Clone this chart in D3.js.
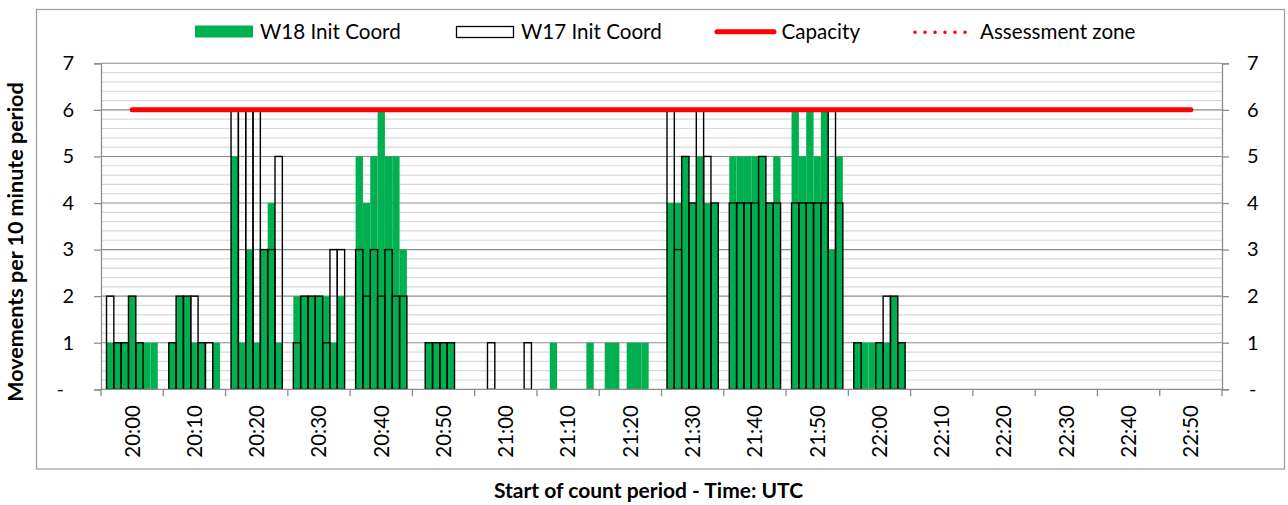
<!DOCTYPE html>
<html>
<head>
<meta charset="utf-8">
<script src="https://cdn.jsdelivr.net/npm/d3@7"></script>
<style>
  html, body { margin: 0; padding: 0; background: #fff; }
  svg { display: block; font-family: Lato, "Noto Sans", sans-serif; }
</style>
</head>
<body>
<svg id="chart" width="1288" height="505"></svg>
<script>
// Ten-minute count periods shown on the category axis
const periods = ["20:00", "20:10", "20:20", "20:30", "20:40", "20:50",
                 "21:00", "21:10", "21:20", "21:30", "21:40", "21:50",
                 "22:00", "22:10", "22:20", "22:30", "22:40", "22:50"];

// Seven counts per period (one per sub-slot)
const slots = [0, 1, 2, 3, 4, 5, 6];

// W18 Init Coord counts, one row per period
const w18 = [
  [1, 1, 1, 2, 1, 1, 1],
  [1, 2, 2, 1, 1, 0, 1],
  [5, 1, 3, 1, 3, 4, 1],
  [2, 2, 2, 2, 2, 1, 2],
  [5, 4, 5, 6, 5, 5, 3],
  [0, 1, 1, 1, 1, 0, 0],
  [0, 0, 0, 0, 0, 0, 0],
  [0, 1, 0, 0, 0, 0, 1],
  [1, 1, 0, 1, 1, 1, 0],
  [4, 4, 5, 4, 5, 4, 4],
  [5, 5, 5, 5, 5, 4, 5],
  [6, 5, 6, 5, 6, 3, 5],
  [1, 1, 1, 1, 1, 2, 1],
  [0, 0, 0, 0, 0, 0, 0],
  [0, 0, 0, 0, 0, 0, 0],
  [0, 0, 0, 0, 0, 0, 0],
  [0, 0, 0, 0, 0, 0, 0],
  [0, 0, 0, 0, 0, 0, 0]
];

// W17 Init Coord counts, one row per period
const w17 = [
  [2, 1, 1, 2, 1, 0, 0],
  [1, 2, 2, 2, 1, 1, 0],
  [6, 6, 6, 6, 3, 3, 5],
  [1, 2, 2, 2, 1, 3, 3],
  [3, 2, 3, 2, 3, 2, 2],
  [0, 1, 1, 1, 1, 0, 0],
  [0, 1, 0, 0, 0, 0, 1],
  [0, 0, 0, 0, 0, 0, 0],
  [0, 0, 0, 0, 0, 0, 0],
  [6, 3, 5, 4, 6, 5, 4],
  [4, 4, 4, 4, 5, 4, 4],
  [4, 4, 4, 4, 4, 6, 4],
  [1, 0, 0, 1, 2, 2, 1],
  [0, 0, 0, 0, 0, 0, 0],
  [0, 0, 0, 0, 0, 0, 0],
  [0, 0, 0, 0, 0, 0, 0],
  [0, 0, 0, 0, 0, 0, 0],
  [0, 0, 0, 0, 0, 0, 0]
];

// Declared capacity and assessment zone per period
const capacity       = [6, 6, 6, 6, 6, 6, 6, 6, 6, 6, 6, 6, 6, 6, 6, 6, 6, 6];
const assessmentZone = [6, 6, 6, 6, 6, 6, 6, 6, 6, 6, 6, 6, 6, 6, 6, 6, 6, 6];

// Value-axis ticks
const yTicks = [0, 1, 2, 3, 4, 5, 6, 7];

const svg = d3.select("#chart");
const plot = { left: 101, right: 1222, top: 63.3, bottom: 389.3 };

const x = d3.scaleBand().domain(periods).range([plot.left, plot.right]).padding(0);
const xSlot = d3.scaleBand().domain(slots).range([0, x.bandwidth()])
  .paddingInner(0).paddingOuter(0.75);
const y = d3.scaleLinear().domain([0, 7]).range([plot.bottom, plot.top]);

const GREEN = "#00B050", RED = "#FF0000";

// Outer chart frame
svg.append("rect")
  .attr("x", 36.5).attr("y", 9.5).attr("width", 1248).attr("height", 459.5)
  .attr("fill", "none").attr("stroke", "#a0a0a0").attr("stroke-width", 1.3);

// Minor gridlines every 0.2
const minor = d3.range(1, 35).map(i => i / 5).filter(v => Math.abs(v - Math.round(v)) > 1e-6);
svg.append("g").selectAll("line").data(minor).join("line")
  .attr("x1", plot.left).attr("x2", plot.right)
  .attr("y1", d => y(d)).attr("y2", d => y(d))
  .attr("stroke", "#d9d9d9").attr("stroke-width", 1.2);

// Major gridlines
svg.append("g").selectAll("line").data(yTicks.filter(d => d > 0)).join("line")
  .attr("x1", plot.left).attr("x2", plot.right)
  .attr("y1", d => y(d)).attr("y2", d => y(d))
  .attr("stroke", "#8c8c8c").attr("stroke-width", 1.1);

// Flatten the period x slot tables into bar records
const flat = (table) => periods.flatMap((p, i) => slots.map(s => ({ p, s, v: table[i][s] })));

// W18 filled bars
svg.append("g").selectAll("rect").data(flat(w18).filter(d => d.v > 0)).join("rect")
  .attr("x", d => x(d.p) + xSlot(d.s))
  .attr("width", xSlot.bandwidth())
  .attr("y", d => y(d.v))
  .attr("height", d => y(0) - y(d.v))
  .attr("fill", GREEN);

// W17 outlined bars drawn over the filled ones
svg.append("g").selectAll("rect").data(flat(w17).filter(d => d.v > 0)).join("rect")
  .attr("x", d => x(d.p) + xSlot(d.s))
  .attr("width", xSlot.bandwidth())
  .attr("y", d => y(d.v))
  .attr("height", d => y(0) - y(d.v))
  .attr("fill", "none").attr("stroke", "#000").attr("stroke-width", 1.4);

// Axes lines
const axisColor = "#8c8c8c";
const yAxisL = d3.axisLeft(y).tickValues(yTicks).tickSize(7).tickFormat(d => d === 0 ? "-" : d);
const gL = svg.append("g").attr("transform", `translate(${plot.left},0)`).call(yAxisL);
const yAxisR = d3.axisRight(y).tickValues(yTicks).tickSize(7).tickFormat(d => d === 0 ? "-" : d);
const gR = svg.append("g").attr("transform", `translate(${plot.right},0)`).call(yAxisR);
[gL, gR].forEach(g => {
  g.select(".domain").attr("stroke", axisColor).attr("stroke-width", 1.3);
  g.selectAll(".tick line").attr("stroke", axisColor).attr("stroke-width", 1.3);
  g.selectAll(".tick text").attr("fill", "#000").attr("font-size", 20).attr("font-family", "Lato");
});
gL.selectAll(".tick text").attr("x", -27).attr("text-anchor", "end")
  .filter(d => d === 0).attr("x", -37);
gR.selectAll(".tick text").attr("x", 25).attr("text-anchor", "start")
  .filter(d => d === 0).attr("x", 27);

// Category axis: ticks at period boundaries, labels centred in each period
const gB = svg.append("g").attr("transform", `translate(0,${plot.bottom})`);
gB.append("line").attr("x1", plot.left).attr("x2", plot.right)
  .attr("stroke", axisColor).attr("stroke-width", 1.3);
const boundaries = periods.map(p => x(p)).concat([plot.right]);
gB.selectAll("line.tk").data(boundaries).join("line").attr("class", "tk")
  .attr("x1", d => d).attr("x2", d => d).attr("y1", 0).attr("y2", 7)
  .attr("stroke", axisColor).attr("stroke-width", 1.3);
gB.selectAll("text").data(periods).join("text")
  .attr("transform", d => `translate(${x(d) + x.bandwidth() / 2},${405 - plot.bottom}) rotate(-90)`)
  .attr("text-anchor", "end").attr("dy", "0.36em")
  .attr("font-size", 20.5).attr("fill", "#000")
  .text(d => d);

// Capacity line with the dotted assessment-zone line on top
const line = d3.line().x((d, i) => x(periods[i]) + x.bandwidth() / 2).y(d => y(d));
svg.append("path").datum(capacity).attr("d", line)
  .attr("fill", "none").attr("stroke", RED).attr("stroke-width", 5)
  .attr("stroke-linecap", "round");
svg.append("path").datum(assessmentZone).attr("d", line)
  .attr("fill", "none").attr("stroke", RED).attr("stroke-width", 3.5)
  .attr("stroke-linecap", "round").attr("stroke-dasharray", "0,6.2");

// Legend
const lg = svg.append("g").attr("font-size", 20.6).attr("fill", "#000");
lg.append("rect").attr("x", 195).attr("y", 25.5).attr("width", 58).attr("height", 12).attr("fill", GREEN);
lg.append("text").attr("x", 260).attr("y", 32).attr("dy", "0.36em").text("W18 Init Coord");
lg.append("rect").attr("x", 456.5).attr("y", 26.5).attr("width", 57).attr("height", 11)
  .attr("fill", "#fff").attr("stroke", "#000").attr("stroke-width", 1.3);
lg.append("text").attr("x", 521).attr("y", 32).attr("dy", "0.36em").text("W17 Init Coord");
lg.append("line").attr("x1", 717).attr("x2", 774).attr("y1", 31.7).attr("y2", 31.7)
  .attr("stroke", RED).attr("stroke-width", 5).attr("stroke-linecap", "round");
lg.append("text").attr("x", 781.5).attr("y", 32).attr("dy", "0.36em").text("Capacity");
lg.append("line").attr("x1", 915).attr("x2", 975).attr("y1", 32.3).attr("y2", 32.3)
  .attr("stroke", RED).attr("stroke-width", 3.6).attr("stroke-linecap", "round")
  .attr("stroke-dasharray", "0,10");
lg.append("text").attr("x", 980).attr("y", 32).attr("dy", "0.36em").text("Assessment zone");

// Axis titles
svg.append("text")
  .attr("transform", "translate(15,242) rotate(-90)")
  .attr("text-anchor", "middle").attr("dy", "0.36em")
  .attr("font-size", 21.5).attr("font-weight", "bold").attr("fill", "#000")
  .text("Movements per 10 minute period");
svg.append("text")
  .attr("x", 648.5).attr("y", 498)
  .attr("text-anchor", "middle")
  .attr("font-size", 21).attr("font-weight", "bold").attr("fill", "#000")
  .text("Start of count period - Time: UTC");
</script>
</body>
</html>
